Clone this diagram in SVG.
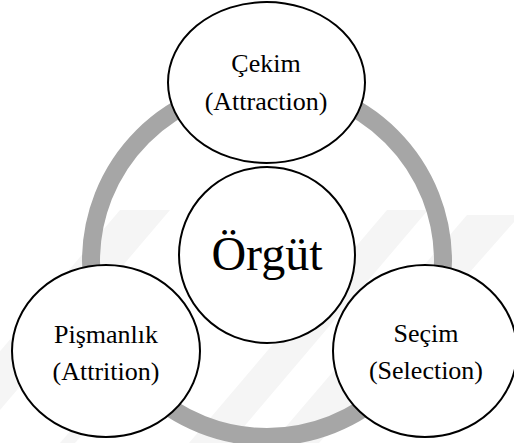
<svg xmlns="http://www.w3.org/2000/svg" width="514" height="443" viewBox="0 0 514 443">
  <style>
    .node { fill: #ffffff; stroke: #000000; stroke-width: 2; }
    text { font-family: "Times New Roman", "Liberation Serif", serif; font-size: 26px; fill: #000000; text-anchor: middle; }
    .big { font-size: 48px; }
    .wm { fill: #f5f5f5; }
  </style>
  <rect width="514" height="443" fill="#ffffff"/>
  <g id="watermark">
    <polygon class="wm" points="120,210 170,210 -28,443 -78,443"/>
    <polygon class="wm" points="387,210 428,210 230,443 189,443"/>
    <polygon class="wm" points="467,215 514,215 514,222 319,443 272,443"/>
    <polygon class="wm" points="110,385 125,385 75,443 60,443"/>
  </g>
  <g id="connectors">
    <circle cx="267" cy="261" r="176" fill="none" stroke="#a6a6a6" stroke-width="18"/>
  </g>
  <g id="node-cekim">
    <ellipse class="node" cx="266.5" cy="82.5" rx="98.5" ry="80.5"/>
    <text x="266" y="72">Çekim</text>
    <text x="266" y="110">(Attraction)</text>
  </g>
  <g id="node-orgut">
    <circle class="node" cx="267" cy="255" r="88"/>
    <text class="big" x="267" y="270">Örgüt</text>
  </g>
  <g id="node-pismanlik">
    <ellipse class="node" cx="106" cy="351" rx="94" ry="86"/>
    <text x="106" y="343">Pişmanlık</text>
    <text x="106" y="380">(Attrition)</text>
  </g>
  <g id="node-secim">
    <ellipse class="node" cx="425" cy="351" rx="92" ry="86"/>
    <text x="426" y="342">Seçim</text>
    <text x="426" y="379">(Selection)</text>
  </g>
</svg>
